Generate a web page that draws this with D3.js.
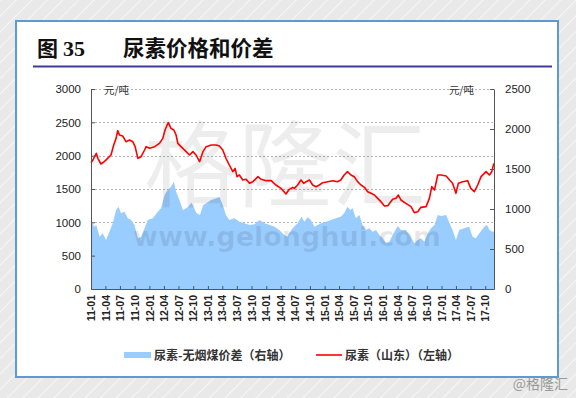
<!DOCTYPE html>
<html>
<head>
<meta charset="utf-8">
<script src="https://cdn.jsdelivr.net/npm/d3@7"></script>
<style>
	html, body { margin: 0; padding: 0; background: #fff; }
	svg { display: block; }
	.tick text { font-family: "Liberation Sans", Arial, sans-serif; fill: #222; }
	.cjk { font-family: "Noto Sans CJK SC", sans-serif; }
</style>
</head>
<body>
<svg id="chart" width="576" height="398"></svg>
<script>
// 尿素（山东）价格，左轴 元/吨
const ureaDates = [
	'2011-01-01', '2011-01-13', '2011-02-03', '2011-02-13', '2011-03-04', '2011-03-25', '2011-04-15', '2011-05-06',
	'2011-05-23', '2011-06-07', '2011-06-17', '2011-06-28', '2011-07-18', '2011-08-08', '2011-08-30', '2011-09-19',
	'2011-10-04', '2011-10-21', '2011-11-10', '2011-12-02', '2011-12-12', '2012-01-02', '2012-02-03', '2012-03-04',
	'2012-03-25', '2012-04-08', '2012-04-21', '2012-04-29', '2012-05-15', '2012-06-02', '2012-06-16', '2012-06-27',
	'2012-07-17', '2012-08-18', '2012-09-08', '2012-09-29', '2012-10-19', '2012-11-10', '2012-12-01', '2012-12-21',
	'2013-01-22', '2013-02-22', '2013-03-14', '2013-04-04', '2013-04-24', '2013-05-15', '2013-06-06', '2013-06-20',
	'2013-07-02', '2013-07-17', '2013-08-07', '2013-08-28', '2013-09-18', '2013-10-09', '2013-11-10', '2013-11-30',
	'2014-01-01', '2014-02-01', '2014-03-02', '2014-04-03', '2014-05-04', '2014-05-25', '2014-06-15', '2014-06-25',
	'2014-07-16', '2014-08-06', '2014-08-23', '2014-09-07', '2014-09-28', '2014-10-18', '2014-11-08', '2014-11-29',
	'2014-12-20', '2015-01-21', '2015-02-21', '2015-03-22', '2015-04-12', '2015-05-03', '2015-05-24', '2015-06-14',
	'2015-07-05', '2015-07-26', '2015-08-16', '2015-09-07', '2015-09-27', '2015-10-18', '2015-11-08', '2015-11-29',
	'2015-12-19', '2016-01-10', '2016-01-31', '2016-03-01', '2016-03-22', '2016-04-06', '2016-04-22', '2016-05-23',
	'2016-06-24', '2016-07-15', '2016-08-05', '2016-08-25', '2016-09-26', '2016-10-17', '2016-11-01', '2016-11-18',
	'2016-12-08', '2016-12-29', '2017-01-30', '2017-02-20', '2017-03-11', '2017-04-01', '2017-04-16', '2017-05-13',
	'2017-06-13', '2017-07-03', '2017-07-25', '2017-08-15', '2017-09-05', '2017-10-06', '2017-10-27', '2017-11-11',
	'2017-11-24',
];
const ureaPrice = [
	1895, 1935, 2035, 1960, 1875, 1910, 1960, 2010,
	2160, 2260, 2375, 2310, 2295, 2210, 2235, 2210,
	2135, 1960, 1985, 2085, 2135, 2110, 2135, 2185,
	2260, 2385, 2460, 2495, 2410, 2385, 2310, 2185,
	2135, 2060, 2010, 2060, 2010, 1910, 2060, 2135,
	2160, 2160, 2145, 2085, 1960, 1860, 1760, 1810,
	1685, 1710, 1635, 1645, 1585, 1610, 1685, 1645,
	1625, 1625, 1560, 1510, 1425, 1495, 1525, 1510,
	1560, 1635, 1585, 1610, 1635, 1560, 1535, 1560,
	1595, 1610, 1625, 1610, 1635, 1710, 1760, 1710,
	1685, 1610, 1560, 1525, 1460, 1435, 1410, 1360,
	1310, 1245, 1250, 1345, 1360, 1410, 1335, 1285,
	1235, 1145, 1160, 1225, 1235, 1360, 1535, 1485,
	1710, 1710, 1695, 1635, 1585, 1435, 1585, 1610,
	1625, 1510, 1460, 1560, 1685, 1760, 1710, 1760,
	1885,
];

// 尿素-无烟煤价差，右轴 元/吨
const spreadDates = [
	'2011-01-01', '2011-01-24', '2011-02-03', '2011-02-24', '2011-03-15', '2011-04-05', '2011-04-26', '2011-05-17',
	'2011-06-07', '2011-06-22', '2011-07-08', '2011-07-29', '2011-08-19', '2011-09-09', '2011-09-30', '2011-10-21',
	'2011-11-10', '2011-12-02', '2011-12-22', '2012-01-23', '2012-02-23', '2012-03-14', '2012-04-05', '2012-04-25',
	'2012-05-15', '2012-06-02', '2012-06-16', '2012-07-07', '2012-07-28', '2012-08-18', '2012-08-31', '2012-09-20',
	'2012-10-22', '2012-11-12', '2012-12-03', '2012-12-21', '2013-01-22', '2013-02-22', '2013-03-14', '2013-04-04',
	'2013-04-24', '2013-05-15', '2013-06-16', '2013-07-17', '2013-08-17', '2013-09-18', '2013-10-19', '2013-11-20',
	'2013-12-21', '2014-01-22', '2014-02-22', '2014-03-23', '2014-04-24', '2014-05-14', '2014-05-25', '2014-06-15',
	'2014-07-16', '2014-08-10', '2014-08-27', '2014-09-17', '2014-10-07', '2014-10-29', '2014-11-19', '2014-12-09',
	'2015-01-10', '2015-02-10', '2015-03-12', '2015-04-12', '2015-05-03', '2015-05-24', '2015-06-10', '2015-06-25',
	'2015-07-15', '2015-08-06', '2015-08-26', '2015-09-16', '2015-10-07', '2015-10-28', '2015-11-18', '2015-12-09',
	'2015-12-30', '2016-01-20', '2016-02-10', '2016-03-01', '2016-04-02', '2016-04-22', '2016-05-23', '2016-06-14',
	'2016-07-15', '2016-08-05', '2016-08-25', '2016-09-16', '2016-10-07', '2016-10-27', '2016-11-18', '2016-12-08',
	'2016-12-29', '2017-01-30', '2017-02-20', '2017-03-11', '2017-04-01', '2017-04-22', '2017-05-23', '2017-06-23',
	'2017-07-14', '2017-08-04', '2017-08-25', '2017-09-26', '2017-10-12', '2017-10-27', '2017-11-17', '2017-11-25',
];
const spreadValue = [
	841, 779, 800, 654, 696, 613, 716, 821,
	988, 1029, 946, 966, 884, 863, 800, 634,
	654, 759, 863, 884, 966, 1009, 1175, 1238,
	1279, 1341, 1216, 1113, 988, 1009, 1029, 1080,
	946, 925, 1050, 1071, 1113, 1134, 1150, 1050,
	925, 863, 884, 841, 821, 800, 810, 863,
	821, 800, 779, 738, 675, 654, 700, 759,
	821, 904, 841, 896, 863, 779, 800, 821,
	841, 863, 884, 904, 946, 1029, 988, 1009,
	884, 925, 800, 738, 759, 716, 738, 675,
	634, 571, 591, 675, 788, 738, 738, 675,
	571, 613, 634, 591, 696, 759, 800, 925,
	913, 925, 821, 738, 613, 738, 759, 779,
	654, 634, 696, 779, 800, 738, 716, 720,
];

const leftTicks = [0, 500, 1000, 1500, 2000, 2500, 3000];
const rightTicks = [0, 500, 1000, 1500, 2000, 2500];
const xDomain = ['2011-01-01', '2017-11-25'];
const xTickStart = '2011-01-01';
const xTickEnd = '2017-10-01';

const legendItems = ['尿素-无烟煤价差（右轴）', '尿素（山东）（左轴）'];
const titleNo = '35';
const titleText = '尿素价格和价差';
const unitLabel = '元/吨';

const parse = d3.timeParse('%Y-%m-%d');
const urea = ureaDates.map((d, i) => ({ date: parse(d), value: ureaPrice[i] }));
const spread = spreadDates.map((d, i) => ({ date: parse(d), value: spreadValue[i] }));

const svg = d3.select('#chart');

// Background with diagonal stripes
const defs = svg.append('defs');
const pattern = defs.append('pattern')
	.attr('id', 'stripes')
	.attr('width', 11).attr('height', 11)
	.attr('patternUnits', 'userSpaceOnUse')
	.attr('patternTransform', 'rotate(45)');
pattern.append('rect').attr('width', 11).attr('height', 11).attr('fill', '#e9e9e9');
pattern.append('line').attr('x1', 0).attr('y1', 0).attr('x2', 0).attr('y2', 11)
	.attr('stroke', '#f7f7f7').attr('stroke-width', 2);
svg.append('rect').attr('width', 576).attr('height', 398).attr('fill', 'url(#stripes)');

// Card
svg.append('rect')
	.attr('x', 16).attr('y', 21).attr('width', 542).attr('height', 356)
	.attr('fill', '#fff').attr('stroke', '#5b9bd5').attr('stroke-width', 2);

// Title
const title = svg.append('g').attr('class', 'cjk').attr('font-weight', 'bold').attr('fill', '#111');
title.append('text').attr('x', 37).attr('y', 56).attr('font-size', 21).text('图');
title.append('text').attr('x', 63).attr('y', 56).attr('font-size', 22)
	.attr('font-family', '"Liberation Serif", serif').text(titleNo);
title.append('text').attr('x', 123).attr('y', 56).attr('font-size', 21.5).text(titleText);
svg.append('line')
	.attr('x1', 33).attr('x2', 552).attr('y1', 66.5).attr('y2', 66.5)
	.attr('stroke', '#3d3d99').attr('stroke-width', 2);

// Scales
const x = d3.scaleTime().domain(xDomain.map(parse)).range([91, 494]);
const yL = d3.scaleLinear().domain([0, 3000]).range([289, 89]);
const yR = d3.scaleLinear().domain([0, 2500]).range([289, 89]);

// Gridlines
svg.append('g').selectAll('line')
	.data(leftTicks.filter(t => t > 0))
	.enter().append('line')
	.attr('x1', 91).attr('x2', 494)
	.attr('y1', d => Math.round(yL(d)) + 0.5).attr('y2', d => Math.round(yL(d)) + 0.5)
	.attr('stroke', '#b5b5b5').attr('stroke-dasharray', '2,2');

// Spread area
svg.append('path')
	.datum(spread)
	.attr('fill', '#99ccff')
	.attr('d', d3.area().x(d => x(d.date)).y0(yR(0)).y1(d => yR(d.value)));

// Watermark
const wm = svg.append('g').attr('pointer-events', 'none');
wm.append('text').attr('class', 'cjk')
	.attr('x', 285).attr('y', 200).attr('text-anchor', 'middle')
	.attr('font-size', 94).attr('fill', '#000').attr('fill-opacity', 0.07)
	.text('格隆汇');
wm.append('text')
	.attr('x', 287).attr('y', 246).attr('text-anchor', 'middle')
	.attr('font-family', '"DejaVu Sans", sans-serif').attr('font-weight', 'bold')
	.attr('font-size', 27).attr('fill', '#000').attr('fill-opacity', 0.09)
	.text('www.gelonghui.com');

// Urea price line
svg.append('path')
	.datum(urea)
	.attr('fill', 'none')
	.attr('stroke', '#ff0000')
	.attr('stroke-width', 1.6)
	.attr('stroke-linejoin', 'round')
	.attr('d', d3.line().x(d => x(d.date)).y(d => yL(d.value)));

// Axes
const xTicks = d3.timeMonth.every(3).range(parse(xTickStart), d3.timeDay.offset(parse(xTickEnd), 1));
const gx = svg.append('g')
	.attr('transform', 'translate(0,289)')
	.call(d3.axisBottom(x).tickValues(xTicks).tickFormat(d3.timeFormat('%y-%m')).tickSizeInner(-3).tickSizeOuter(0));
gx.selectAll('text')
	.attr('transform', 'rotate(-90)')
	.attr('text-anchor', 'end')
	.attr('x', -6).attr('y', 0).attr('dy', '0.35em')
	.attr('font-size', 10.5).attr('font-weight', 'bold').attr('fill', '#333');

const gl = svg.append('g')
	.attr('transform', 'translate(91,0)')
	.call(d3.axisLeft(yL).tickValues(leftTicks).tickFormat(d3.format('d')).tickSizeInner(-4).tickSizeOuter(0).tickPadding(10));
gl.selectAll('text').attr('font-size', 11.5);

const gr = svg.append('g')
	.attr('transform', 'translate(494,0)')
	.call(d3.axisRight(yR).tickValues(rightTicks).tickFormat(d3.format('d')).tickSizeInner(-4).tickSizeOuter(0).tickPadding(11));
gr.selectAll('text').attr('font-size', 11.5);

svg.selectAll('.domain, .tick line').attr('stroke', '#555');

// Units
svg.append('text').attr('class', 'cjk').attr('x', 104).attr('y', 94)
	.attr('font-size', 10.5).attr('fill', '#333').text(unitLabel);
svg.append('text').attr('class', 'cjk').attr('x', 474).attr('y', 94).attr('text-anchor', 'end')
	.attr('font-size', 10.5).attr('fill', '#333').text(unitLabel);

// Legend
const legend = svg.append('g').attr('class', 'cjk').attr('font-size', 12).attr('font-weight', 'bold').attr('fill', '#333');
legend.append('rect').attr('x', 124).attr('y', 352).attr('width', 27).attr('height', 6).attr('fill', '#99ccff');
legend.append('text').attr('x', 154).attr('y', 359.5).text(legendItems[0]);
legend.append('line').attr('x1', 316).attr('x2', 342).attr('y1', 355).attr('y2', 355)
	.attr('stroke', '#ff0000').attr('stroke-width', 1.6);
legend.append('text').attr('x', 345).attr('y', 359.5).text(legendItems[1]);

// Source mark
svg.append('text').attr('class', 'cjk').attr('x', 568).attr('y', 389).attr('text-anchor', 'end')
	.attr('font-size', 14).attr('fill', '#9a9a9a').text('@格隆汇');
</script>
</body>
</html>
